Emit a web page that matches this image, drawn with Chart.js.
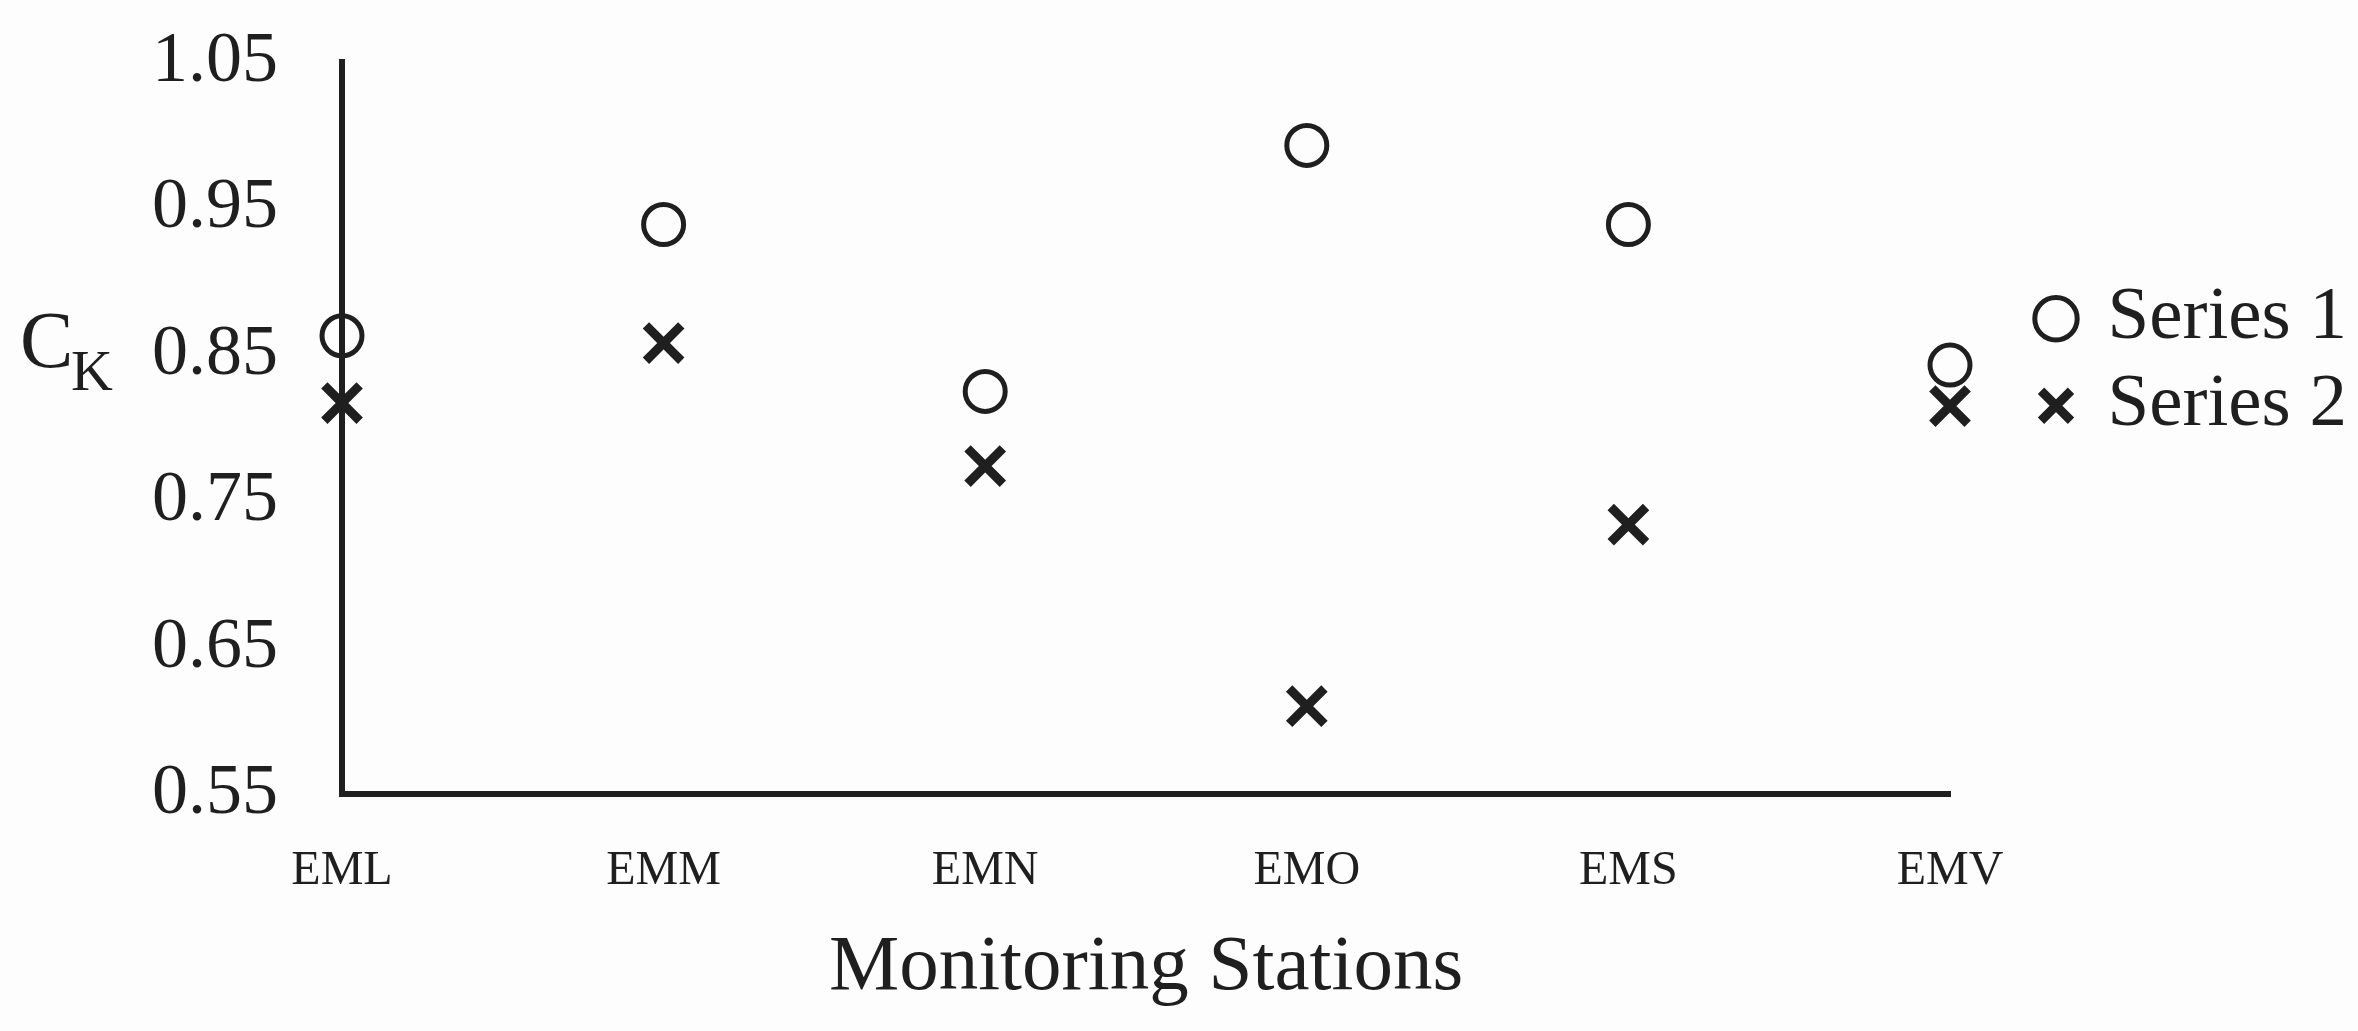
<!DOCTYPE html>
<html>
<head>
<meta charset="utf-8">
<title>Monitoring Stations</title>
<script src="https://cdn.jsdelivr.net/npm/chart.js@4.4.1/dist/chart.umd.min.js"></script>
<style>
  html, body { margin: 0; padding: 0; background: #fdfdfd; }
  canvas { display: block; }
</style>
</head>
<body>
<canvas id="chart" width="2358" height="1031"></canvas>
<script>
const stations = ['EML', 'EMM', 'EMN', 'EMO', 'EMS', 'EMV'];
const series1 = [0.863, 0.939, 0.825, 0.993, 0.939, 0.843];
const series2 = [0.817, 0.858, 0.774, 0.61, 0.734, 0.815];
const yTicks = [0.55, 0.65, 0.75, 0.85, 0.95, 1.05];

const ink = '#1f1f1f';
const serif = '"Liberation Serif", "Times New Roman", serif';

Chart.defaults.font.family = serif;
Chart.defaults.color = ink;

// "C" with subscript "K" next to the y ticks, the axis title can't do subscripts
const ckLabel = {
  id: 'ckLabel',
  afterDraw(chart) {
    const ctx = chart.ctx;
    ctx.save();
    ctx.fillStyle = ink;
    ctx.textBaseline = 'alphabetic';
    ctx.font = '80px ' + serif;
    ctx.fillText('C', 20, 367);
    ctx.font = '58px ' + serif;
    ctx.fillText('K', 71, 390);
    ctx.restore();
  }
};

new Chart(document.getElementById('chart'), {
  type: 'line',
  data: {
    labels: stations,
    datasets: [{
      label: 'Series 1',
      data: series1,
      showLine: false,
      clip: false,
      pointStyle: 'circle',
      pointRadius: 20,
      pointHoverRadius: 20,
      pointBorderWidth: 5,
      borderColor: ink,
      pointBorderColor: ink,
      backgroundColor: 'rgba(0,0,0,0)',
      pointBackgroundColor: 'rgba(0,0,0,0)'
    }, {
      label: 'Series 2',
      data: series2,
      showLine: false,
      clip: false,
      pointStyle: 'crossRot',
      pointRadius: 25,
      pointHoverRadius: 25,
      pointBorderWidth: 9,
      borderColor: ink,
      pointBorderColor: ink,
      backgroundColor: ink,
      pointBackgroundColor: ink
    }]
  },
  options: {
    responsive: false,
    animation: false,
    layout: { padding: { top: 62, right: 10, bottom: 0, left: 0 } },
    scales: {
      x: {
        type: 'category',
        offset: false,
        grid: { display: false, drawTicks: false },
        border: { display: true, color: ink, width: 6 },
        ticks: { padding: 49, font: { size: 48 }, color: ink, maxRotation: 0 },
        title: {
          display: true,
          text: 'Monitoring Stations',
          font: { size: 79 },
          color: ink,
          padding: { top: 0, bottom: 15 }
        },
        afterFit: s => { s.height = 237; }
      },
      y: {
        min: 0.55,
        max: 1.05,
        grid: { display: false, drawTicks: false },
        border: { display: true, color: ink, width: 6 },
        ticks: {
          padding: 64,
          font: { size: 72 },
          color: ink,
          callback: v => Number(v).toFixed(2)
        },
        afterBuildTicks: s => { s.ticks = yTicks.map(v => ({ value: v })); },
        afterFit: s => {
          s.width = 342;
          // the tick padding would otherwise push the plot top down
          s.paddingTop = 0;
          s.paddingBottom = 0;
        }
      },
      // empty spacer between the plot and the legend
      gap: {
        position: 'right',
        display: true,
        grid: { display: false, drawTicks: false },
        border: { display: false },
        ticks: { display: false },
        afterFit: s => { s.width = 80; }
      }
    },
    plugins: {
      tooltip: { enabled: false },
      legend: {
        position: 'right',
        align: 'start',
        maxWidth: 318,
        title: { display: true, text: '', font: { size: 1 }, padding: { top: 206, bottom: 0 } },
        labels: {
          usePointStyle: true,
          boxWidth: 28,
          boxHeight: 30,
          padding: 12,
          color: ink,
          font: { size: 75 }
        }
      }
    }
  },
  plugins: [ckLabel]
});
</script>
</body>
</html>
